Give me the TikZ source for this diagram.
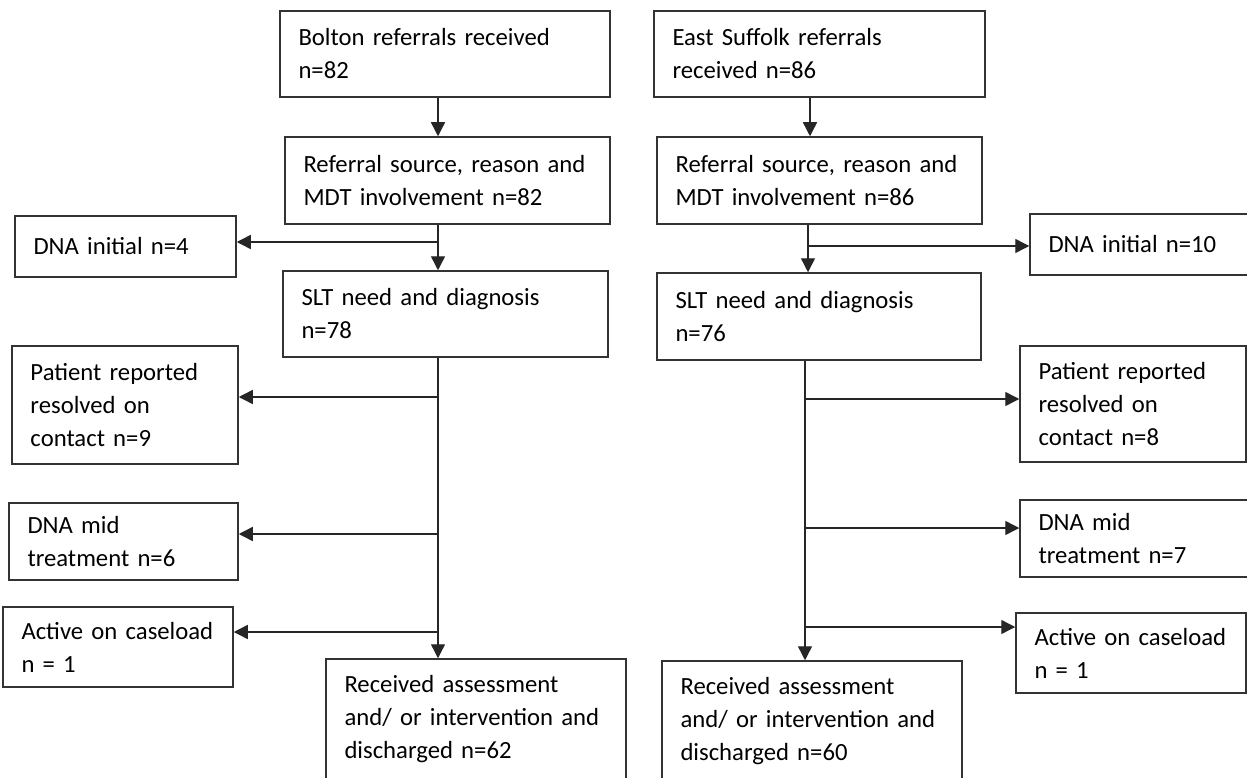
\documentclass[tikz,border=0pt]{standalone}
\usepackage{fontspec}
\setmainfont{Carlito}
\usetikzlibrary{arrows.meta}
\newcommand{\flowfont}{\fontsize{24.7}{33}\selectfont}
\tikzset{
  fbox/.style={draw=black!80, line width=1.5pt, inner xsep=18.5pt, inner ysep=0pt,
    align=left, font=\flowfont, rectangle},
  arr/.style={draw=black!85, line width=1.4pt, -{Triangle[length=14pt,width=14pt]}},
}
\newcommand{\fnode}[6]{% name, cx, cy, W, H, text
  \pgfmathsetmacro{\tw}{#4-37}
  \node[fbox, minimum width=#4pt, minimum height=#5pt, text width=\tw pt] (#1) at (#2,#3) {#6};
}
\begin{document}
\begin{tikzpicture}[x=1pt,y=-1pt]
\fill[white] (0,0) rectangle (1247,778);
\useasboundingbox (0,0) rectangle (1247,778);
\clip (0,0) rectangle (1247,778);

% Bolton column
\fnode{lbol}{445}{54}{330}{86}{Bolton referrals received\\n=82}
\fnode{lref}{447.5}{180.5}{325}{87}{Referral source, reason and\\MDT involvement n=82}
\fnode{ldna}{125.5}{246.5}{221}{61}{DNA initial n=4}
\fnode{lslt}{445.5}{314}{325}{86}{SLT need and diagnosis\\n=78}
\fnode{lpat}{125}{405}{226}{118}{Patient reported\\resolved on\\contact n=9}
\fnode{ldmid}{123.5}{541.5}{229}{77}{DNA mid\\treatment n=6}
\fnode{lact}{118}{647}{230}{80}{Active on caseload\\n = 1}
\fnode{lrec}{476}{719.5}{300}{121}{Received assessment\\and/ or intervention and\\discharged n=62}

% East Suffolk column
\fnode{res}{819.5}{54}{331}{86}{East Suffolk referrals\\received n=86}
\fnode{rref}{819.5}{180.5}{325}{87}{Referral source, reason and\\MDT involvement n=86}
\fnode{rdna}{1141}{244.5}{222}{61}{DNA initial n=10}
\fnode{rslt}{819}{316.5}{324}{87}{SLT need and diagnosis\\n=76}
\fnode{rpat}{1133}{404}{226}{116}{Patient reported\\resolved on\\contact n=8}
\fnode{rdmid}{1136}{538.5}{232}{77}{DNA mid\\treatment n=7}
\fnode{ract}{1131}{653}{230}{80}{Active on caseload\\n = 1}
\fnode{rrec}{812}{721.5}{300}{121}{Received assessment\\and/ or intervention and\\discharged n=60}

% Bolton connectors
\coordinate (lx) at (438,0);
\draw[arr] (lbol.south -| lx) -- (lref.north -| lx);
\draw[arr] (lref.south -| lx) -- (lslt.north -| lx);
\coordinate (lb0) at (438,242);
\draw[arr] (lb0) -- (lb0 -| ldna.east);
\draw[arr] (lslt.south -| lx) -- (lrec.north -| lx);
\coordinate (lb1) at (438,397);
\coordinate (lb2) at (438,534);
\coordinate (lb3) at (438,632);
\draw[arr] (lb1) -- (lb1 -| lpat.east);
\draw[arr] (lb2) -- (lb2 -| ldmid.east);
\draw[arr] (lb3) -- (lb3 -| lact.east);

% East Suffolk connectors
\coordinate (rx1) at (810,0);
\coordinate (rx2) at (808,0);
\coordinate (rx3) at (805,0);
\draw[arr] (res.south -| rx1) -- (rref.north -| rx1);
\draw[arr] (rref.south -| rx2) -- (rslt.north -| rx2);
\coordinate (rb0) at (808,246);
\draw[arr] (rb0) -- (rb0 -| rdna.west);
\draw[arr] (rslt.south -| rx3) -- (rrec.north -| rx3);
\coordinate (rb1) at (805,399);
\coordinate (rb2) at (805,528);
\coordinate (rb3) at (805,627);
\draw[arr] (rb1) -- (rb1 -| rpat.west);
\draw[arr] (rb2) -- (rb2 -| rdmid.west);
\draw[arr] (rb3) -- (rb3 -| ract.west);
\end{tikzpicture}
\end{document}
